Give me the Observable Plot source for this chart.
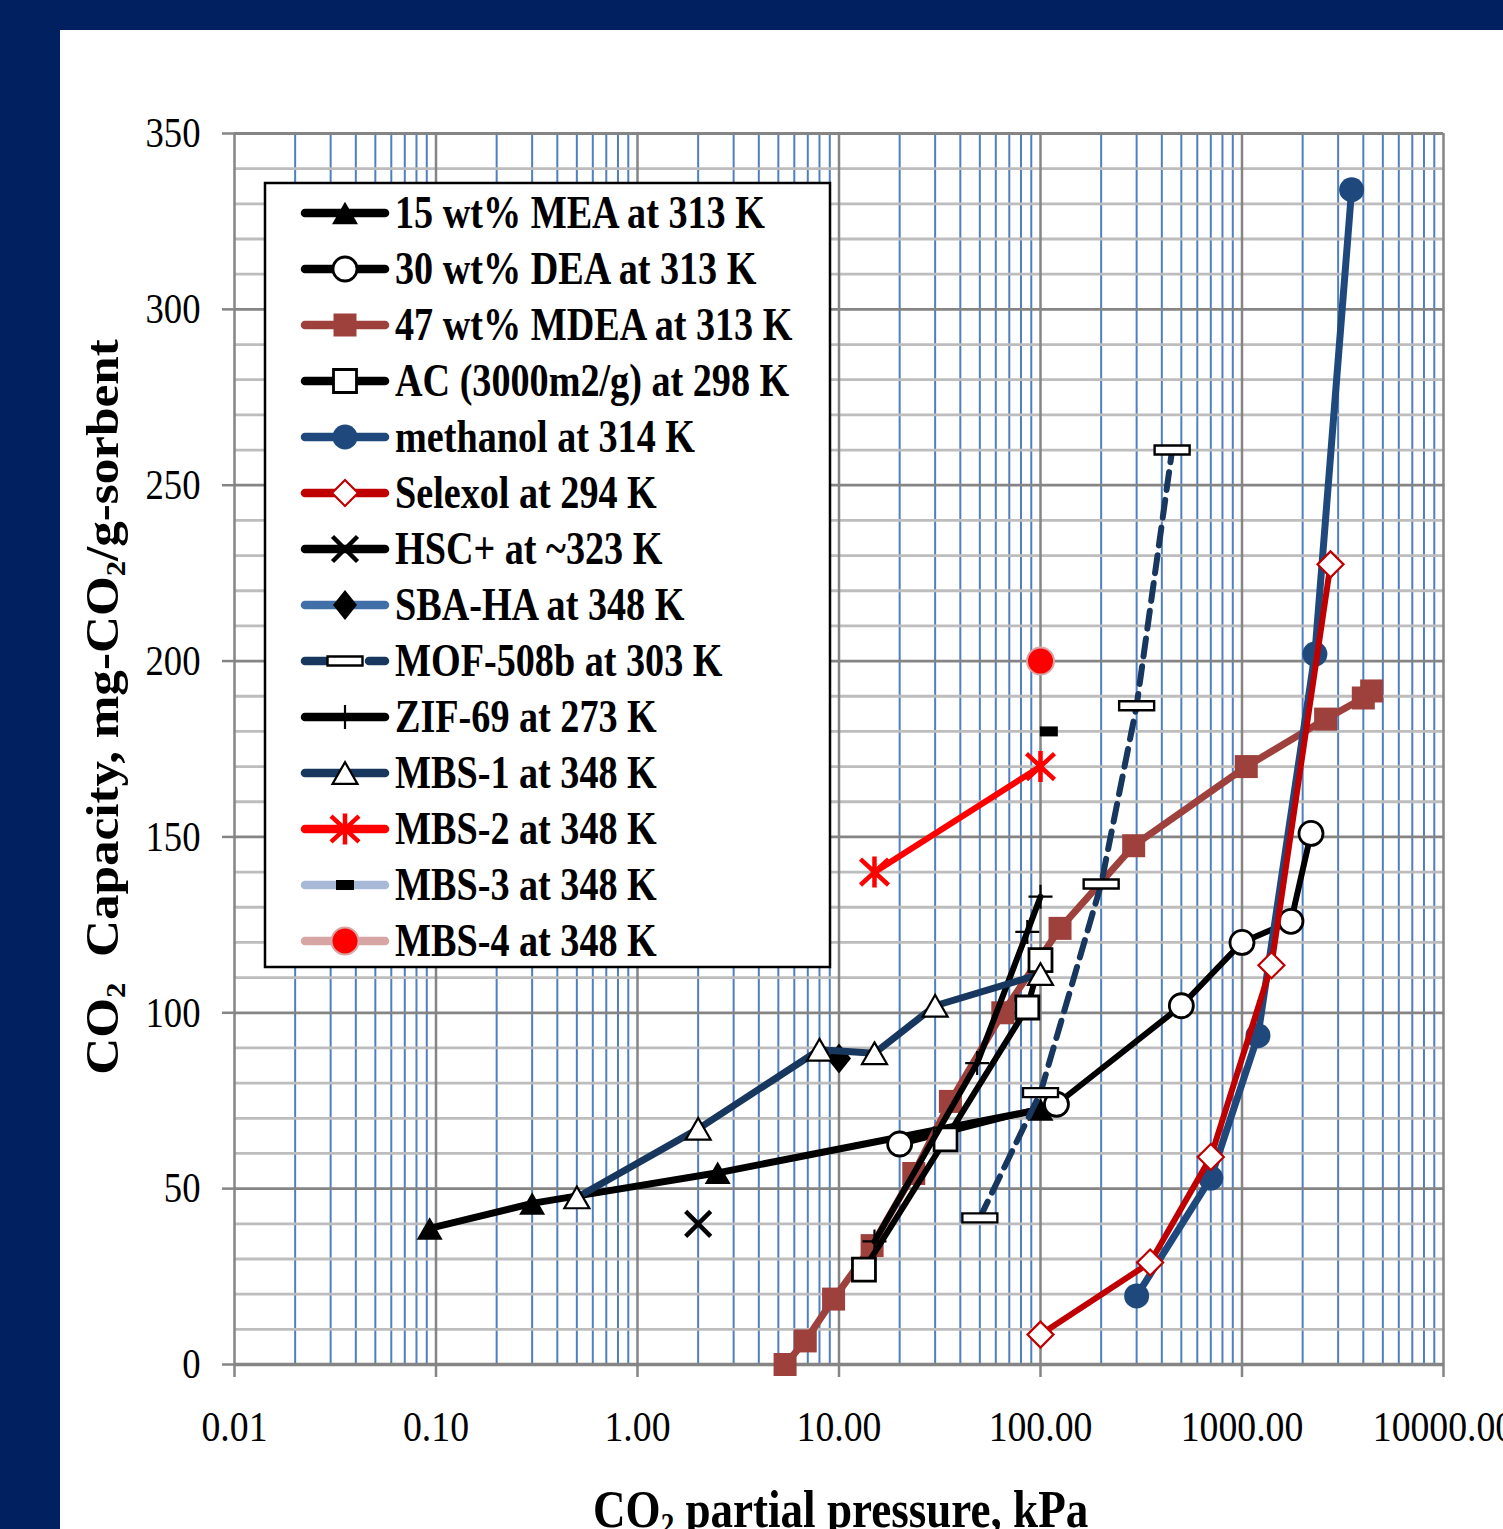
<!DOCTYPE html>
<html><head><meta charset="utf-8">
<script src="https://cdn.jsdelivr.net/npm/d3@7"></script>
<script src="https://cdn.jsdelivr.net/npm/@observablehq/plot@0.6"></script>
<style>
html,body{margin:0;padding:0;background:#fff;}
#wrap{position:relative;width:1503px;height:1529px;overflow:hidden;background:#fff;font-family:"Liberation Serif","Times New Roman",serif;}
.band{position:absolute;background:#002060;z-index:5;}
.title{position:absolute;font-weight:bold;white-space:nowrap;color:#000;line-height:1;display:inline-block;}
.title sub{font-size:0.6em;vertical-align:-0.25em;line-height:0;}
</style></head><body><div id="wrap"></div>
<script>
// ---------------- data ----------------
const seriesNames = ["15 wt% MEA at 313 K","30 wt% DEA at 313 K","47 wt% MDEA at 313 K","AC (3000m2/g) at 298 K",
  "methanol at 314 K","Selexol at 294 K","HSC+ at ~323 K","SBA-HA at 348 K","MOF-508b at 303 K","ZIF-69 at 273 K",
  "MBS-1 at 348 K","MBS-2 at 348 K","MBS-3 at 348 K","MBS-4 at 348 K"];
const meaP = [0.093, 0.3, 2.5, 100];
const meaC = [38.7, 45.8, 54.5, 72.5];
const deaP = [20, 120, 500, 1000, 1750, 2200];
const deaC = [62.7, 74, 102, 120, 126, 151];
const mdeaP = [5.4, 6.8, 9.4, 14.6, 23.5, 35.7, 65, 125, 290, 1050, 2600, 4000, 4400];
const mdeaC = [0, 6.7, 18.6, 33.8, 54.3, 74.8, 100, 124, 147.5, 170, 183.5, 189.5, 191.5];
const acP = [13.3, 33.8, 86, 100];
const acC = [27, 64, 101.5, 115];
const methP = [300, 700, 1200, 2300, 3500];
const methC = [19.5, 53, 93.5, 202, 334];
const selP = [100, 350, 700, 1400, 2750];
const selC = [8.5, 29, 59, 113.5, 227.5];
const hscP = [2];
const hscC = [40];
const sbaP = [10];
const sbaC = [87];
const mofP = [50, 100, 200, 300, 450];
const mofC = [41.7, 77.3, 136.6, 187.3, 260];
const zifP = [15, 48.5, 86, 100];
const zifC = [35, 85.7, 123, 133];
const mbs1P = [0.5, 2, 8, 15, 30, 100];
const mbs1C = [47.5, 67, 89.5, 88.5, 102, 111];
const mbs2P = [15, 100];
const mbs2C = [140, 170];
const mbs3P = [110];
const mbs3C = [180];
const mbs4P = [100];
const mbs4C = [200];

const xTicks = [0.01, 0.1, 1, 10, 100, 1000, 10000];
const xTickLabels = ["0.01","0.10","1.00","10.00","100.00","1000.00","10000.00"];
const yTicks = [0, 50, 100, 150, 200, 250, 300, 350];
const yMinor = d3.range(0, 351, 10).filter(v => v % 50 !== 0);
const xMinor = xTicks.slice(0, -1).flatMap(d => [2,3,4,5,6,7,8,9].map(k => k * d));

// ---------------- symbols ----------------
const sym = {
  triangle: s => ({draw(c){const h=s*0.866; c.moveTo(0,-h/2); c.lineTo(s/2,h/2); c.lineTo(-s/2,h/2); c.closePath();}}),
  circle: r => ({draw(c){c.moveTo(r,0); c.arc(0,0,r,0,2*Math.PI); c.closePath();}}),
  square: s => ({draw(c){c.rect(-s/2,-s/2,s,s);}}),
  rect: (w,h) => ({draw(c){c.rect(-w/2,-h/2,w,h);}}),
  diamond: (w,h) => ({draw(c){c.moveTo(0,-h/2); c.lineTo(w/2,0); c.lineTo(0,h/2); c.lineTo(-w/2,0); c.closePath();}}),
  plus: (w,h) => ({draw(c){c.moveTo(-w/2,0); c.lineTo(w/2,0); c.moveTo(0,-h/2); c.lineTo(0,h/2);}}),
  times: s => ({draw(c){c.moveTo(-s/2,-s/2); c.lineTo(s/2,s/2); c.moveTo(s/2,-s/2); c.lineTo(-s/2,s/2);}}),
  asterisk: (w,h) => ({draw(c){c.moveTo(0,-h/2); c.lineTo(0,h/2); c.moveTo(-w/2,-h/2.4); c.lineTo(w/2,h/2.4); c.moveTo(w/2,-h/2.4); c.lineTo(-w/2,h/2.4);}})
};

const series = [
  {p: meaP, c: meaC, color: "#000000", lw: 7, sym: sym.triangle(26), fill: "#000", stroke: "none", sw: 0},
  {p: deaP, c: deaC, color: "#000000", lw: 6, sym: sym.circle(12), fill: "#fff", stroke: "#000", sw: 2.8},
  {p: mdeaP, c: mdeaC, color: "#9E413C", lw: 7, sym: sym.square(23), fill: "#9E413C", stroke: "none", sw: 0},
  {p: acP, c: acC, color: "#000000", lw: 6, sym: sym.square(23), fill: "#fff", stroke: "#000", sw: 2.8},
  {p: methP, c: methC, color: "#1F497D", lw: 7, sym: sym.circle(12.5), fill: "#1F497D", stroke: "none", sw: 0},
  {p: selP, c: selC, color: "#C00000", lw: 6, sym: sym.diamond(26,26), fill: "#fff", stroke: "#C00000", sw: 2.2},
  {p: hscP, c: hscC, color: "#000000", lw: 7, sym: sym.times(25), fill: "none", stroke: "#000", sw: 4.5},
  {p: sbaP, c: sbaC, color: "#4170A8", lw: 7, sym: sym.diamond(24,30), fill: "#000", stroke: "none", sw: 0},
  {p: mofP, c: mofC, color: "#17375E", lw: 6, dash: "18,10", sym: sym.rect(35,9), fill: "#fff", stroke: "#000", sw: 2.4},
  {p: zifP, c: zifC, color: "#000000", lw: 6, sym: sym.plus(24,24), fill: "none", stroke: "#000", sw: 2.2},
  {p: mbs1P, c: mbs1C, color: "#17375E", lw: 7, sym: sym.triangle(25), fill: "#fff", stroke: "#000", sw: 2.2},
  {p: mbs2P, c: mbs2C, color: "#FF0000", lw: 6, sym: sym.asterisk(28,31), fill: "none", stroke: "#FF0000", sw: 4.5},
  {p: mbs3P, c: mbs3C, color: "#A8B9D8", lw: 7, sym: sym.rect(18,10), fill: "#000", stroke: "none", sw: 0},
  {p: mbs4P, c: mbs4C, color: "#D8A5A5", lw: 7, sym: sym.circle(13.5), fill: "#FF0000", stroke: "#D8A5A5", sw: 2}
];
series.forEach((s, i) => { s.name = seriesNames[i]; s.rows = s.p.map((p, j) => ({p, c: s.c[j], name: s.name})); });

// ---------------- plot ----------------
const marks = [
  Plot.ruleX(xMinor, {stroke: "#4F7FC0", strokeWidth: 2}),
  Plot.ruleY(yMinor, {stroke: "#BDBDBD", strokeWidth: 2.8}),
  Plot.ruleY(yTicks, {stroke: "#858585", strokeWidth: 2.8}),
  Plot.ruleX(xTicks, {stroke: "#858585", strokeWidth: 2.5}),
  Plot.ruleY([0], {stroke: "#858585", strokeWidth: 3.5}),
  Plot.axisX(xTicks, {tickFormat: d => xTickLabels[xTicks.indexOf(d)], tickSize: 13, tickPadding: 34, stroke: "#858585", strokeWidth: 2.5, fill: "#000", fontSize: 42, label: null}),
  Plot.axisY(yTicks, {tickSize: 12, tickPadding: 22, stroke: "#858585", strokeWidth: 2.5, fill: "#000", fontSize: 43, label: null})
];
for (const s of series) {
  if (s.rows.length > 1) marks.push(Plot.line(s.rows, {x: "p", y: "c", stroke: s.color, strokeWidth: s.lw, strokeDasharray: s.dash, strokeLinejoin: "round"}));
  marks.push(Plot.dot(s.rows, {x: "p", y: "c", symbol: s.sym, r: 5, fill: s.fill, stroke: s.stroke, strokeWidth: s.sw}));
}

const chart = Plot.plot({
  width: 1503, height: 1529,
  marginLeft: 234, marginRight: 60, marginTop: 133, marginBottom: 165,
  x: {type: "log", domain: [0.01, 10000]},
  y: {domain: [0, 350]},
  style: {fontFamily: "'Liberation Serif','Times New Roman',serif", background: "transparent", color: "#000", maxWidth: "none"},
  marks
});
chart.style.position = "absolute"; chart.style.left = "0px"; chart.style.top = "0px";
const wrap = document.getElementById("wrap");
wrap.appendChild(chart);

function condense(t, s) {
  const x = parseFloat(t.getAttribute("x")) || 0;
  const y = parseFloat(t.getAttribute("y")) || 0;
  const tr = t.getAttribute("transform") || "";
  t.setAttribute("transform", `${tr} translate(${x},${y}) scale(${s},1) translate(${-x},${-y})`);
}
function condenseGroup(sel, refText, target) {
  const texts = [...chart.querySelectorAll(sel)];
  const ref = texts.find(t => t.textContent === refText) || texts[0];
  if (!ref) return;
  const s = target / ref.getComputedTextLength();
  texts.forEach(t => condense(t, s));
}
condenseGroup('g[aria-label="x-axis tick label"] text', "0.01", 66);
condenseGroup('g[aria-label="y-axis tick label"] text', "350", 55);

// ---------------- legend ----------------
const lg = d3.create("svg").attr("width", 570).attr("height", 790)
  .style("position", "absolute").style("left", "263px").style("top", "181px").style("overflow", "visible");
lg.append("rect").attr("x", 2).attr("y", 2).attr("width", 565).attr("height", 784)
  .attr("fill", "#fff").attr("stroke", "#000").attr("stroke-width", 2.5);
const legendTexts = [];
series.forEach((s, i) => {
  const y = 32 + 56 * i;
  const g = lg.append("g");
  g.append("line").attr("x1", 42).attr("x2", 122).attr("y1", y).attr("y2", y)
    .attr("stroke", s.color).attr("stroke-width", 8.5).attr("stroke-linecap", "round")
    .attr("stroke-dasharray", s.dash ? "20,12" : null);
  g.append("path").attr("transform", `translate(82,${y})`).attr("d", d3.symbol(s.sym)())
    .attr("fill", s.fill).attr("stroke", s.stroke === "none" ? null : s.stroke).attr("stroke-width", s.sw);
  const t = g.append("text").attr("x", 132).attr("y", y + 15).text(s.name)
    .attr("font-family", "'Liberation Serif','Times New Roman',serif").attr("font-weight", "bold")
    .attr("font-size", 46).attr("fill", "#000");
  legendTexts.push(t.node());
});
wrap.appendChild(lg.node());
{
  const ref = legendTexts[0];
  const s = 370 / ref.getComputedTextLength();
  legendTexts.forEach(t => {
    const x = +t.getAttribute("x"), y = +t.getAttribute("y");
    t.setAttribute("transform", `translate(${x},${y}) scale(${s},1) translate(${-x},${-y})`);
  });
}

// ---------------- axis titles ----------------
const xt = document.createElement("div");
xt.className = "title";
xt.innerHTML = "CO<sub>2</sub> partial pressure, kPa";
xt.style.fontSize = "52px";
wrap.appendChild(xt);
{
  const w = xt.offsetWidth, s = 495 / w;
  xt.style.left = (840 - w / 2) + "px";
  xt.style.top = "1484px";
  xt.style.transform = `scaleX(${s})`;
}
const yt = document.createElement("div");
yt.className = "title";
yt.innerHTML = "CO<sub>2</sub>&nbsp; Capacity, mg-CO<sub>2</sub>/g-sorbent";
yt.style.fontSize = "46px";
wrap.appendChild(yt);
{
  const w = yt.offsetWidth, h = yt.offsetHeight, s = 735 / w;
  yt.style.left = (102 - w / 2) + "px";
  yt.style.top = (707 - h / 2) + "px";
  yt.style.transform = `rotate(-90deg) scaleX(${s})`;
}

// ---------------- frame bands ----------------
const b1 = document.createElement("div"); b1.className = "band";
Object.assign(b1.style, {left: "0px", top: "0px", width: "1503px", height: "30px"});
const b2 = document.createElement("div"); b2.className = "band";
Object.assign(b2.style, {left: "0px", top: "0px", width: "60px", height: "1529px"});
wrap.appendChild(b1); wrap.appendChild(b2);
</script></body></html>
